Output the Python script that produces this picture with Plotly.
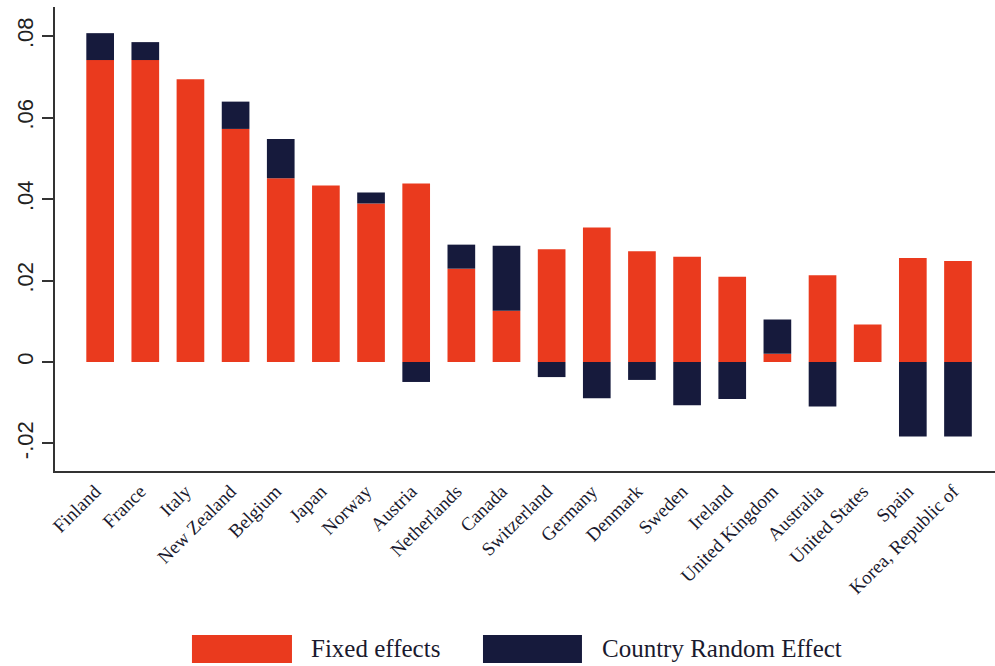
import plotly.graph_objects as go

countries = ["Finland", "France", "Italy", "New Zealand", "Belgium", "Japan", "Norway",
             "Austria", "Netherlands", "Canada", "Switzerland", "Germany", "Denmark",
             "Sweden", "Ireland", "United Kingdom", "Australia", "United States",
             "Spain", "Korea, Republic of"]
fixed_effects = [0.0741, 0.0741, 0.0694, 0.0572, 0.0451, 0.0433, 0.0389, 0.0438,
                 0.0229, 0.0126, 0.0277, 0.0330, 0.0272, 0.0258, 0.0209, 0.0020,
                 0.0213, 0.0092, 0.0255, 0.0248]
random_effect = [0.0066, 0.0044, 0.0, 0.0067, 0.0096, 0.0, 0.0027, -0.0049,
                 0.0059, 0.0159, -0.0037, -0.0089, -0.0044, -0.0106, -0.0091, 0.0084,
                 -0.0109, 0.0, -0.0183, -0.0183]
ytick_vals = [-0.02, 0, 0.02, 0.04, 0.06, 0.08]
ytick_text = ["-.02", "0", ".02", ".04", ".06", ".08"]

RED = "#EA3A1E"
NAVY = "#161A3C"

fig = go.Figure()
fig.add_trace(go.Bar(x=countries, y=fixed_effects, name="Fixed effects",
                     marker=dict(color=RED, line=dict(width=0))))
fig.add_trace(go.Bar(x=countries, y=random_effect, name="Country Random Effect",
                     marker=dict(color=NAVY, line=dict(width=0))))

fig.update_layout(
    barmode="relative",
    bargap=0.387,
    width=995, height=666,
    margin=dict(l=55, r=0, t=7, b=195),
    paper_bgcolor="white", plot_bgcolor="white",
    showlegend=False,
    xaxis=dict(range=[-1.0, 19.82], showline=True, linecolor="#333333", linewidth=1.5,
               ticks="", showgrid=False, zeroline=False, tickangle=-45,
               ticklabelshift=-5,
               tickfont=dict(family="Liberation Serif", size=19, color="#1a1a2e")),
    yaxis=dict(range=[-0.02675, 0.08712], showline=True, linecolor="#333333", linewidth=1.5,
               ticks="outside", ticklen=11, tickwidth=1.5, tickcolor="#333333",
               tickvals=ytick_vals, ticktext=ytick_text, tickangle=-90,
               showgrid=False, zeroline=False,
               tickfont=dict(family="Liberation Sans", size=22, color="#222222")),
)

# custom legend with wide swatches
legend_items = [("Fixed effects", RED, 0.1457, 0.2521, 0.2702),
                ("Country Random Effect", NAVY, 0.4553, 0.5606, 0.5798)]
for label, col, x0, x1, tx in legend_items:
    fig.add_shape(type="rect", xref="paper", yref="paper", x0=x0, x1=x1,
                  y0=-0.4138, y1=-0.3534, fillcolor=col, line=dict(width=0))
    fig.add_annotation(xref="paper", yref="paper", x=tx, y=-0.3836, text=label,
                       showarrow=False, xanchor="left", yanchor="middle",
                       font=dict(family="Liberation Serif", size=25, color="#1a1a2e"))

fig.write_html("out.html")
